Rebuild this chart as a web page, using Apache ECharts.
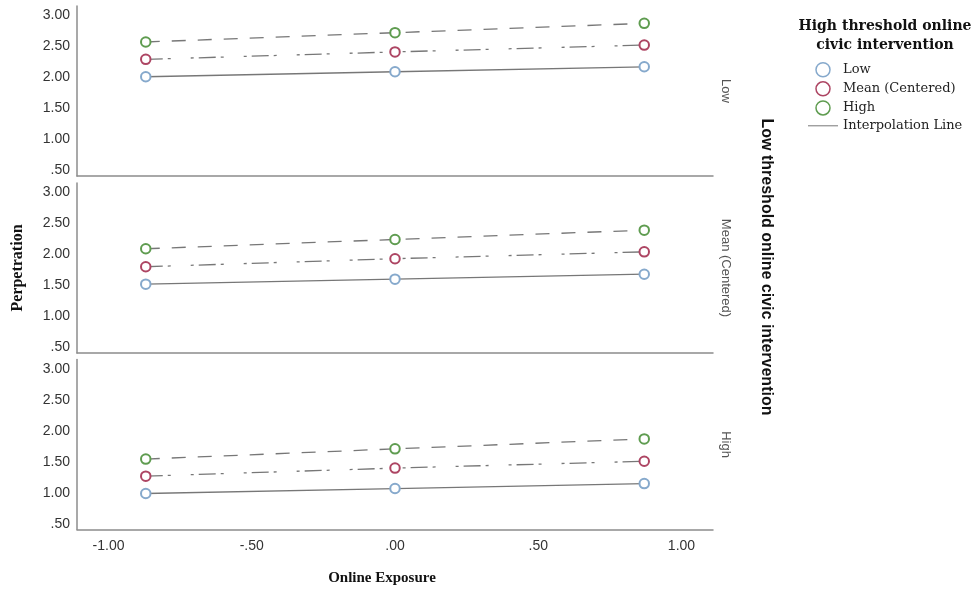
<!DOCTYPE html>
<html>
<head>
<meta charset="utf-8">
<script src="https://cdn.jsdelivr.net/npm/echarts@6/dist/echarts.min.js"></script>
<style>
html,body{margin:0;padding:0;background:#fff;}
#chart{width:976px;height:590px;}
</style>
</head>
<body>
<div id="chart"></div>
<script>
// ---- data ----
const xValues = [-0.87, 0.00, 0.87];
const panelNames = ['Low', 'Mean (Centered)', 'High'];
const groupNames = ['Low', 'Mean (Centered)', 'High'];
const yTicks = [0.5, 1.0, 1.5, 2.0, 2.5, 3.0];
const xTicks = [-1.0, -0.5, 0.0, 0.5, 1.0];

// panel "Low" (low threshold = Low)
const lowPanel_Low  = [2.01, 2.09, 2.17];
const lowPanel_Mean = [2.29, 2.41, 2.52];
const lowPanel_High = [2.57, 2.72, 2.87];
// panel "Mean (Centered)"
const meanPanel_Low  = [1.52, 1.60, 1.68];
const meanPanel_Mean = [1.80, 1.93, 2.04];
const meanPanel_High = [2.09, 2.24, 2.39];
// panel "High"
const highPanel_Low  = [0.99, 1.07, 1.15];
const highPanel_Mean = [1.27, 1.40, 1.51];
const highPanel_High = [1.545, 1.71, 1.87];

const panelData = [
  [lowPanel_Low, lowPanel_Mean, lowPanel_High],
  [meanPanel_Low, meanPanel_Mean, meanPanel_High],
  [highPanel_Low, highPanel_Mean, highPanel_High]
];

// ---- style ----
const groupColors = ['#86a9cc', '#ad4563', '#5f9c50'];
const lineTypes = ['solid', [17, 5, 3, 20, 3, 5], [14, 12]];
const gridTops = [6, 183, 359.5];
const gridH = 170;

function fmt(v) {
  let s = Math.abs(v).toFixed(2).replace(/^0\./, '.');
  return (v < 0 ? '-' : '') + s;
}

const grids = [], xAxes = [], yAxes = [], series = [];
gridTops.forEach((t, i) => {
  grids.push({ left: 77, width: 636, top: t, height: gridH });
  xAxes.push({
    type: 'value', gridIndex: i, min: -1.11, max: 1.11,
    axisLine: { show: true, onZero: false, lineStyle: { color: '#8c8c8c', width: 1.5 } },
    axisTick: { show: false },
    splitLine: { show: false },
    axisLabel: {
      show: i === 2, customValues: xTicks, formatter: fmt, margin: 10,
      fontFamily: 'Liberation Sans', fontSize: 14, color: '#333'
    }
  });
  yAxes.push({
    type: 'value', gridIndex: i, min: 0.41, max: 3.15,
    axisLine: { show: true, onZero: false, lineStyle: { color: '#8c8c8c', width: 1.5 } },
    axisTick: { show: false },
    splitLine: { show: false },
    axisLabel: {
      customValues: yTicks, formatter: fmt, margin: 7,
      fontFamily: 'Liberation Sans', fontSize: 14, color: '#333'
    }
  });
  panelData[i].forEach((arr, g) => {
    series.push({
      type: 'line', name: groupNames[g], xAxisIndex: i, yAxisIndex: i,
      data: xValues.map((x, j) => [x, arr[j]]),
      symbol: 'emptyCircle', symbolSize: 9.5,
      itemStyle: { color: groupColors[g], borderWidth: 1.4 },
      lineStyle: { color: '#777', width: 1.3, type: lineTypes[g] },
      z: 3
    });
  });
});
series.push({ type: 'line', name: 'Interpolation Line', data: [], xAxisIndex: 0, yAxisIndex: 0 });

const graphics = [
  { type: 'text', x: 885, y: 26, style: { text: 'High threshold online', align: 'center', verticalAlign: 'middle', font: 'bold 14px "DejaVu Serif"', fill: '#111' } },
  { type: 'text', x: 885, y: 45, style: { text: 'civic intervention', align: 'center', verticalAlign: 'middle', font: 'bold 14px "DejaVu Serif"', fill: '#111' } },
  { type: 'text', x: 766, y: 267, rotation: -Math.PI / 2, style: { text: 'Low threshold online civic intervention', align: 'center', verticalAlign: 'middle', font: 'bold 16px "Liberation Sans"', fill: '#111' } },
  { type: 'text', x: 18, y: 268, rotation: Math.PI / 2, style: { text: 'Perpetration', align: 'center', verticalAlign: 'middle', font: 'bold 16px "Liberation Serif"', fill: '#111' } },
  { type: 'text', x: 382, y: 578, style: { text: 'Online Exposure', align: 'center', verticalAlign: 'middle', font: 'bold 15px "Liberation Serif"', fill: '#111' } }
];
panelNames.forEach((n, i) => {
  graphics.push({ type: 'text', x: 726, y: gridTops[i] + gridH / 2, rotation: -Math.PI / 2,
    style: { text: n, align: 'center', verticalAlign: 'middle', font: '13px "Liberation Sans"', fill: '#555' } });
});

const chart = echarts.init(document.getElementById('chart'), null, { renderer: 'canvas' });
chart.setOption({
  animation: false,
  backgroundColor: '#fff',
  grid: grids,
  xAxis: xAxes,
  yAxis: yAxes,
  series: series,
  legend: {
    orient: 'vertical', left: 808, top: 62, padding: 0, itemWidth: 30, itemHeight: 14, itemGap: 3.6,
    symbolKeepAspect: true,
    textStyle: { fontFamily: 'DejaVu Serif', fontSize: 13, color: '#222' },
    data: [
      { name: 'Low', icon: 'circle', itemStyle: { color: '#fff', borderColor: groupColors[0], borderWidth: 1.5 } },
      { name: 'Mean (Centered)', icon: 'circle', itemStyle: { color: '#fff', borderColor: groupColors[1], borderWidth: 1.5 } },
      { name: 'High', icon: 'circle', itemStyle: { color: '#fff', borderColor: groupColors[2], borderWidth: 1.5 } },
      { name: 'Interpolation Line', icon: 'path://M0,0 L30,0 L30,1 L0,1 Z', itemStyle: { color: '#777', borderWidth: 0 } }
    ]
  },
  graphic: graphics
});
</script>
</body>
</html>
